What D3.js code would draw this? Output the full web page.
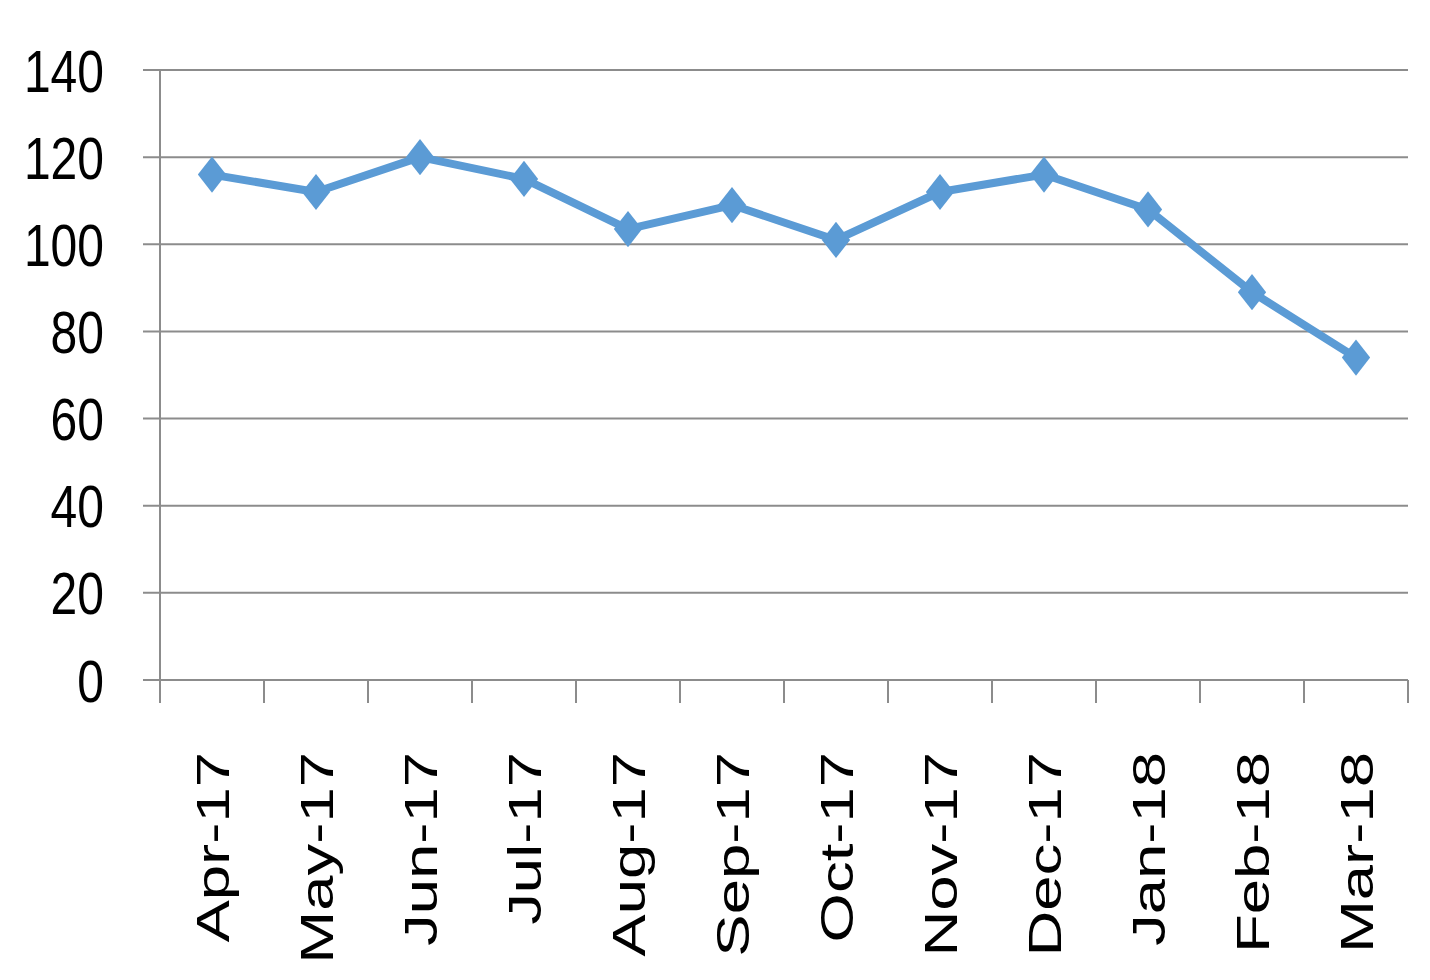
<!DOCTYPE html>
<html>
<head>
<meta charset="utf-8">
<script src="https://cdn.jsdelivr.net/npm/d3@7"></script>
<style>
html,body{margin:0;padding:0;background:#fff;}
svg{display:block;}
text{font-family:"Liberation Sans",Arial,sans-serif;fill:#000;}
</style>
</head>
<body>
<svg id="chart" width="1430" height="980"></svg>
<script>
const categories = ["Apr-17","May-17","Jun-17","Jul-17","Aug-17","Sep-17","Oct-17","Nov-17","Dec-17","Jan-18","Feb-18","Mar-18"];
const values = [116, 112, 120, 115, 103.5, 109, 101, 112, 116, 108, 89, 74];
const yTicks = [0, 20, 40, 60, 80, 100, 120, 140];

(function () {
const svg = d3.select("#chart");
const plotLeft = 160, plotRight = 1408, plotTop = 70, plotBottom = 680;

const x = d3.scaleBand().domain(categories).range([plotLeft, plotRight]).padding(0);
const y = d3.scaleLinear().domain([0, 140]).range([plotBottom, plotTop]);

const gridColor = "#8c8c8c";

// gridlines (with left tick stubs)
svg.append("g").selectAll("line").data(yTicks).join("line")
  .attr("x1", plotLeft - 17).attr("x2", plotRight)
  .attr("y1", d => y(d)).attr("y2", d => y(d))
  .attr("stroke", gridColor).attr("stroke-width", 2);

// vertical axis
svg.append("line").attr("x1", plotLeft).attr("x2", plotLeft).attr("y1", plotTop).attr("y2", plotBottom + 23)
  .attr("stroke", gridColor).attr("stroke-width", 2);

// x tick marks at band boundaries
const boundaries = categories.map(c => x(c)).concat([plotRight]);
svg.append("g").selectAll("line").data(boundaries.slice(1)).join("line")
  .attr("x1", d => d).attr("x2", d => d).attr("y1", plotBottom).attr("y2", plotBottom + 23)
  .attr("stroke", gridColor).attr("stroke-width", 2);

// y tick labels
svg.append("g").selectAll("text").data(yTicks).join("text")
  .attr("transform", d => `translate(104,${y(d)}) scale(1,1.25)`)
  .attr("text-anchor", "end")
  .attr("dy", "0.36em")
  .attr("font-size", 48)
  .text(d => d);

// x labels
svg.append("g").selectAll("text").data(categories).join("text")
  .attr("transform", d => `translate(${x(d) + x.bandwidth() / 2 + 17},752) rotate(-90) scale(1.38,1)`)
  .attr("text-anchor", "end")
  .attr("font-size", 46)
  .text(d => d);

// line
const line = d3.line().x((d, i) => x(categories[i]) + x.bandwidth() / 2).y(d => y(d));
svg.append("path").datum(values)
  .attr("d", line)
  .attr("fill", "none")
  .attr("stroke", "#5B9BD5")
  .attr("stroke-width", 8)
  .attr("stroke-linejoin", "round");

// markers
const sym = d3.symbol().type(d3.symbolSquare).size(400);
svg.append("g").selectAll("path").data(values).join("path")
  .attr("d", sym)
  .attr("transform", (d, i) => `translate(${x(categories[i]) + x.bandwidth() / 2},${y(d)}) scale(1,1.28) rotate(45)`)
  .attr("fill", "#5B9BD5");
})();
</script>
</body>
</html>
